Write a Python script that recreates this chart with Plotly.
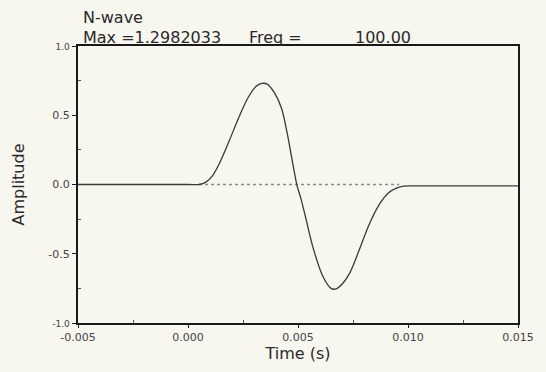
import plotly.graph_objects as go

# N-wave trace
time_s = [-0.005, 0.0, 0.0005, 0.0008, 0.00110, 0.00142, 0.00186, 0.0023, 0.00274, 0.00310, 0.00336,
          0.00360, 0.00394, 0.00425, 0.00451, 0.00473, 0.00496, 0.00513, 0.00535, 0.00571,
          0.00615, 0.00650, 0.00670, 0.00700, 0.00735, 0.00779, 0.00823, 0.00867, 0.00912, 0.00950,
          0.0098, 0.0103, 0.015]
amplitude = [0.0, 0.0, 0.0, 0.015, 0.06, 0.15, 0.31, 0.48, 0.63, 0.71, 0.73,
             0.725, 0.66, 0.55, 0.37, 0.18, -0.01, -0.10, -0.24, -0.47,
             -0.67, -0.75, -0.755, -0.72, -0.64, -0.47, -0.29, -0.15, -0.06, -0.025,
             -0.012, -0.01, -0.01]

# dotted zero reference
ref_x = [0.0005, 0.0096]
ref_y = [0.0, 0.0]

x_tickvals = [-0.005, 0.0, 0.005, 0.010, 0.015]
x_ticktext = ["-0.005", "0.000", "0.005", "0.010", "0.015"]
y_tickvals = [-1.0, -0.5, 0.0, 0.5, 1.0]
y_ticktext = ["<span style='font-size:9px'>-1.0</span>", "-0.5", "0.0", "0.5",
              "<span style='font-size:9px'>1.0</span>"]

title_line1 = "N-wave"
max_text = "Max =1.2982033"
freq_label = "Freq ="
freq_value = "100.00"

FONT = "DejaVu Sans"
INK = "#2a2a2a"
BG = "#f7f6ef"

fig = go.Figure()
fig.add_trace(go.Scatter(x=ref_x, y=ref_y, mode="lines",
                         line=dict(color="#8a8a8a", width=1.3, dash="dot"),
                         hoverinfo="skip", showlegend=False))
fig.add_trace(go.Scatter(x=time_s, y=amplitude, mode="lines",
                         line=dict(color="#3a3a3a", width=1.3, shape="spline", smoothing=1.0),
                         showlegend=False))

fig.update_layout(
    width=546, height=372,
    margin=dict(l=78, r=18, t=46, b=44),
    paper_bgcolor=BG, plot_bgcolor=BG,
    font=dict(family=FONT, color=INK),
    xaxis=dict(range=[-0.005, 0.015], tickvals=x_tickvals, ticktext=x_ticktext,
               showgrid=False, zeroline=False, showline=True, mirror=True,
               linecolor="#1a1a1a", linewidth=2, ticks="outside", ticklen=3,
               tickcolor="#1a1a1a", tickfont=dict(size=11, color="#444"),
               minor=dict(tickvals=[-0.0025, 0.0025, 0.0075, 0.0125], ticks="inside",
                          ticklen=3, tickcolor="#555"),
               title=dict(text="Time (s)", font=dict(size=16, color=INK), standoff=5)),
    yaxis=dict(range=[-1.0, 1.0], tickvals=y_tickvals, ticktext=y_ticktext,
               showgrid=False, zeroline=False, showline=True, mirror=True,
               linecolor="#1a1a1a", linewidth=2, ticks="outside", ticklen=4,
               tickcolor="#1a1a1a", tickfont=dict(size=11, color="#444"),
               minor=dict(tickvals=[-0.75, -0.25, 0.25, 0.75], ticks="inside",
                          ticklen=3, tickcolor="#555"),
               title=dict(text="Amplitude", font=dict(size=16, color=INK), standoff=20)),
)

fig.add_annotation(xref="paper", yref="paper", x=0.007, y=1.0, yshift=29,
                   text=title_line1, showarrow=False, xanchor="left", yanchor="middle",
                   font=dict(size=16, color=INK, family=FONT))
fig.add_annotation(xref="paper", yref="paper", x=0.007, y=1.0, yshift=9,
                   text=max_text, showarrow=False, xanchor="left", yanchor="middle",
                   font=dict(size=16, color=INK, family=FONT))
fig.add_annotation(xref="paper", yref="paper", x=(251 - 78) / 450, y=1.0, yshift=9,
                   text=freq_label, showarrow=False, xanchor="left", yanchor="middle",
                   font=dict(size=16, color=INK, family=FONT))
fig.add_annotation(xref="paper", yref="paper", x=(421 - 78) / 450, y=1.0, yshift=9,
                   text=freq_value, showarrow=False, xanchor="right", yanchor="middle",
                   font=dict(size=16, color=INK, family=FONT))

fig.write_html("out.html")
